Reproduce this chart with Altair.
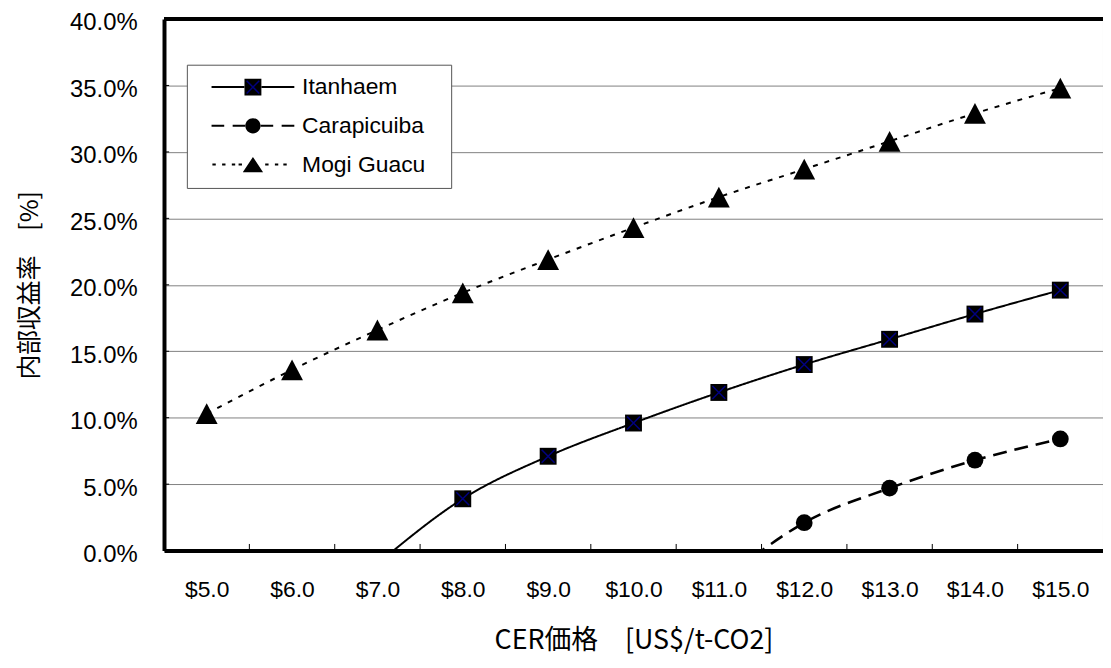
import altair as alt
import pandas as pd

# ---------------- data ----------------
prices = [5.0, 6.0, 7.0, 8.0, 9.0, 10.0, 11.0, 12.0, 13.0, 14.0, 15.0]
series_names = ["Itanhaem", "Carapicuiba", "Mogi Guacu"]
itanhaem = [None, None, -1.0, 3.9, 7.1, 9.6, 11.9, 14.0, 15.9, 17.8, 19.6]
carapicuiba = [None, None, None, None, None, None, -2.5, 2.1, 4.7, 6.8, 8.4]
mogi_guacu = [10.3, 13.6, 16.6, 19.4, 21.9, 24.3, 26.6, 28.7, 30.8, 32.9, 34.8]
y_ticks = [0.0, 0.05, 0.10, 0.15, 0.20, 0.25, 0.30, 0.35, 0.40]
x_title = "CER価格\u3000[US$/t-CO2]"
y_title = "内部収益率\u3000[%]"

rows = []
for name, vals in zip(series_names, [itanhaem, carapicuiba, mogi_guacu]):
    for p, v in zip(prices, vals):
        if v is not None:
            rows.append({"price": p, "series": name, "irr": v / 100.0})
df = pd.DataFrame(rows)

edges = pd.DataFrame({"edge": [(a + b) / 2 for a, b in zip(prices[:-1], prices[1:])]})
inner_y = pd.DataFrame({"tick": y_ticks[1:-1]})
one = pd.DataFrame({"k": [0]})

# ---------------- scales / axes ----------------
W, H = 945, 535
x_scale = alt.Scale(domain=[prices[0] - 0.5, prices[-1] + 0.5], nice=False, zero=False)
y_scale = alt.Scale(domain=[y_ticks[0], y_ticks[-1]], nice=False, zero=False)

x_axis = alt.Axis(
    values=prices, labelExpr="'$' + format(datum.value, '.1f')",
    grid=False, ticks=False, tickSize=0,
    domainColor="black", domainWidth=4,
    labelFont="Liberation Sans", labelFontSize=23, labelColor="black",
    labelPadding=28, labelBaseline="top",
    title=x_title, titleFont="Noto Sans CJK JP", titleFontSize=27,
    titleFontWeight="normal", titleColor="black",
    titleBaseline="alphabetic", titleAlign="center", titleX=W / 2, titleY=99,
)
y_axis = alt.Axis(
    values=y_ticks, format=".1%",
    grid=True, gridColor="#808080", gridWidth=1,
    ticks=False, tickSize=0,
    domainColor="black", domainWidth=4,
    labelFont="Liberation Sans", labelFontSize=24, labelColor="black",
    labelPadding=27, labelOffset=4,
    title=y_title, titleFont="Noto Sans CJK JP", titleFontSize=25,
    titleFontWeight="normal", titleColor="black",
    titleAngle=270, titleAlign="center", titleBaseline="alphabetic",
    titleX=-127.5, titleY=H / 2,
)

x_enc = alt.X("price:Q", scale=x_scale, axis=x_axis)
y_enc = alt.Y("irr:Q", scale=y_scale, axis=y_axis)

base = alt.Chart(df)

# ---------------- series styles ----------------
line_styles = {
    "Itanhaem": dict(strokeWidth=2, strokeDash=[1, 0]),
    "Carapicuiba": dict(strokeWidth=2.6, strokeDash=[14, 8]),
    "Mogi Guacu": dict(strokeWidth=2, strokeDash=[5, 7]),
}
marker_styles = {
    "Itanhaem": dict(shape="square", size=289),
    "Carapicuiba": dict(shape="circle", size=284),
    "Mogi Guacu": dict(shape="M0,-0.95L1,0.95L-1,0.95Z", size=484),
}

layers = []
for name in series_names:
    layers.append(
        base.transform_filter(alt.datum.series == name)
        .mark_line(color="black", interpolate="monotone", clip=True, **line_styles[name])
        .encode(x=x_enc, y=y_enc)
    )
for name in series_names:
    layers.append(
        base.transform_filter((alt.datum.series == name) & (alt.datum.irr >= 0))
        .mark_point(filled=True, color="black", opacity=1, strokeWidth=0, **marker_styles[name])
        .encode(x=x_enc, y=y_enc)
    )
# navy cross inside the Itanhaem squares
layers.append(
    base.transform_filter((alt.datum.series == "Itanhaem") & (alt.datum.irr >= 0))
    .mark_point(shape="M-1,-1L1,1M1,-1L-1,1", filled=False, stroke="#000080",
                strokeWidth=1.5, size=169, opacity=1)
    .encode(x=x_enc, y=y_enc)
)

# inward ticks on the x axis (between categories) and on the y axis
layers.append(
    alt.Chart(edges).mark_rule(color="black", strokeWidth=1).encode(
        x=alt.X("edge:Q", scale=x_scale, axis=x_axis),
        y=alt.YDatum(0.0, type="quantitative", scale=y_scale, axis=y_axis),
        y2=alt.Y2Datum(0.005),
    )
)
layers.append(
    alt.Chart(inner_y).mark_rule(color="black", strokeWidth=1).encode(
        y=alt.Y("tick:Q", scale=y_scale, axis=y_axis),
        x=alt.XDatum(prices[0] - 0.5, type="quantitative", scale=x_scale, axis=x_axis),
        x2=alt.X2Datum(prices[0] - 0.5 + 0.06),
    )
)
# thick top frame line
layers.append(
    alt.Chart(one).mark_rule(color="black", strokeWidth=4).encode(
        y=alt.YDatum(y_ticks[-1], type="quantitative", scale=y_scale, axis=y_axis)
    )
)

# ---------------- legend (custom line + marker symbols, three stacked legends) ----------------
# zero-length (invisible) end points give all three legends the same extent
ext = "M-4.9,0L-4.9,0M21.6,0L21.6,0"
line_paths = [
    ext + "M-4.9,0H-1M1,0H4.9",
    ext + "M-4.9,0H-3.4M-2.4,0H-0.9M0.9,0H2.4M3.4,0H4.9",
    ext + "M-4.8,0H-4.4M-3.65,0H-3.25M-2.5,0H-2.1M-1.7,0H-1.3M1.45,0H1.85M2.6,0H3M3.6,0H4",
]
marker_paths = [
    ext + "M-1,-1H1V1H-1Z",
    ext + "M-0.9,0A0.9,0.9,0,1,1,0.9,0A0.9,0.9,0,1,1,-0.9,0Z",
    ext + "M0,-0.9L1.2,0.9L-1.2,0.9Z",
]
cross_paths = [
    ext + "M-0.75,-0.75L0.75,0.75M0.75,-0.75L-0.75,0.75",
    ext,
    ext,
]
leg_common = dict(
    title=None, orient="none", legendX=23, legendY=46, padding=11,
    symbolSize=289, symbolOffset=44, labelOffset=38, rowPadding=15,
    labelFont="Liberation Sans", labelFontSize=23, labelColor="black",
    symbolOpacity=1,
)
legend_df = pd.DataFrame({"series": series_names})
layers.append(
    alt.Chart(legend_df).transform_filter("false")
    .mark_point(filled=False, stroke="black", strokeWidth=2, size=289, opacity=1)
    .encode(shape=alt.Shape(
        "series:N", scale=alt.Scale(domain=series_names, range=line_paths),
        legend=alt.Legend(fillColor="white", strokeColor="#555555",
                          symbolFillColor="transparent", symbolStrokeColor="black",
                          symbolStrokeWidth=2, **leg_common)))
)
layers.append(
    alt.Chart(legend_df).transform_filter("false")
    .mark_point(filled=True, fill="black", size=289, opacity=1)
    .encode(shape=alt.Shape(
        "series:N", scale=alt.Scale(domain=series_names, range=marker_paths),
        legend=alt.Legend(symbolFillColor="black", symbolStrokeWidth=0,
                          labelOpacity=0, **leg_common)))
)
layers.append(
    alt.Chart(legend_df).transform_filter("false")
    .mark_point(filled=False, stroke="#000080", strokeWidth=1.5, size=289, opacity=1)
    .encode(shape=alt.Shape(
        "series:N", scale=alt.Scale(domain=series_names, range=cross_paths),
        legend=alt.Legend(symbolFillColor="transparent", symbolStrokeColor="#000080",
                          symbolStrokeWidth=1.5, labelOpacity=0, **leg_common)))
)

chart = (
    alt.layer(*layers)
    .resolve_scale(shape="independent")
    .properties(
        width=W, height=H,
        autosize=alt.AutoSizeParams(type="none"),
        padding={"left": 157, "top": 9, "right": 0, "bottom": 108},
        background="white",
    )
    .configure_view(stroke="#808080", strokeWidth=1)
)

chart.save("out.html", embed_options={"renderer": "svg", "actions": False})
